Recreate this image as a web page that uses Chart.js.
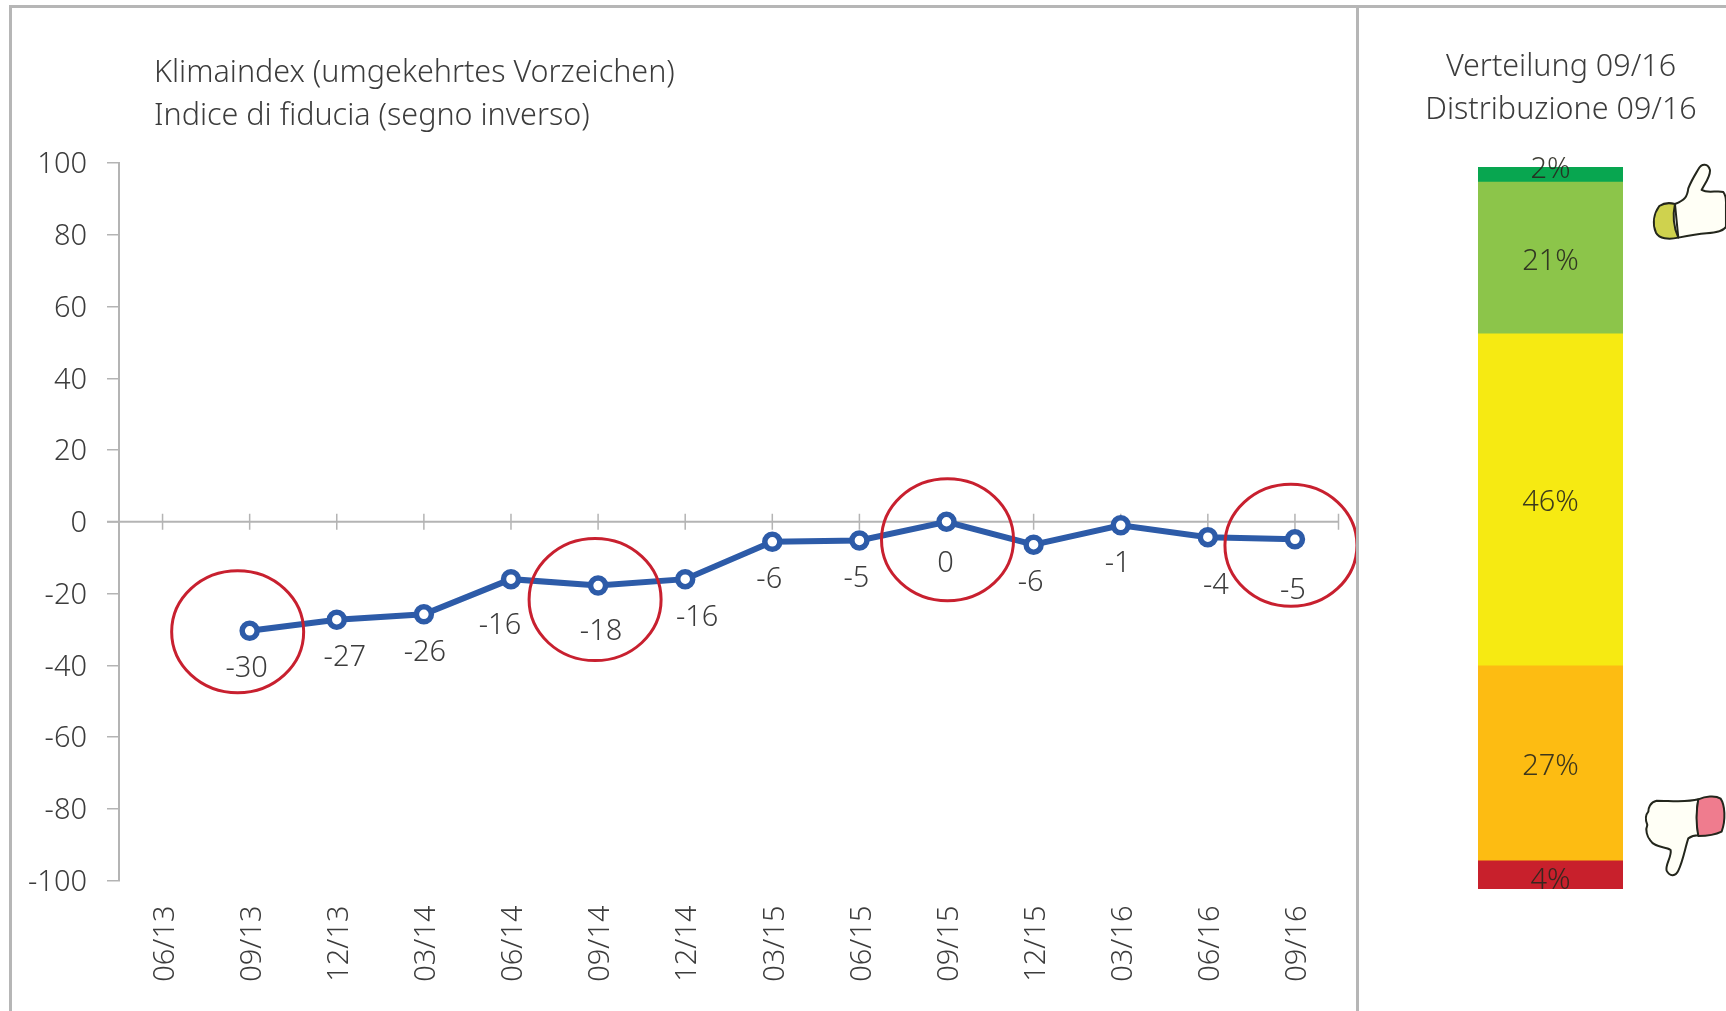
<!DOCTYPE html>
<html><head><meta charset="utf-8">
<script src="https://cdn.jsdelivr.net/npm/chart.js@4"></script>
<style>
html,body{margin:0;padding:0;background:#fff;width:1726px;height:1011px;overflow:hidden}
#wrap{position:relative;width:1726px;height:1011px}
#c1{position:absolute;left:0;top:0}
#c2{position:absolute;left:1360px;top:0}
.rule{position:absolute;background:#b6b6b6}
svg{position:absolute;left:0;top:0}
</style></head><body>
<div id="wrap">
<canvas id="c1" width="1358" height="1011"></canvas>
<canvas id="c2" width="366" height="1011"></canvas>
<div class="rule" style="left:9px;top:5px;width:1717px;height:3px"></div>
<div class="rule" style="left:9px;top:5px;width:3px;height:1006px"></div>
<div class="rule" style="left:1356px;top:5px;width:3px;height:1006px"></div>
<svg width="1726" height="1011" viewBox="0 0 1726 1011">
 <g transform="translate(1340,0) scale(0.3333)" stroke="#23261c" stroke-width="6" stroke-linejoin="round">
  <path fill="#fffff6" d="M1005 612C1035 600 1042 590 1045 565C1055 540 1065 525 1075 508C1085 488 1105 490 1110 510C1112 530 1095 550 1085 570C1105 582 1130 570 1150 576C1160 590 1158 600 1158 615L1158 680C1150 695 1125 698 1100 700C1070 702 1040 708 1015 713Z"/>
  <path fill="#cfd24e" d="M1005 612C990 608 970 610 958 618C942 640 936 670 948 698C958 716 985 720 1015 713C1000 680 998 645 1005 612Z"/>
 </g>
 <g transform="translate(1340,740) scale(0.3333)" stroke="#23261c" stroke-width="6" stroke-linejoin="round">
  <path fill="#fffff6" d="M1075 178C1040 188 990 182 950 182C930 186 925 205 925 215C912 230 918 245 922 255C915 270 922 290 930 300C945 325 975 318 992 330C996 350 975 375 980 392C990 412 1008 408 1015 392C1030 360 1035 325 1045 295C1055 288 1065 286 1075 286C1070 250 1068 215 1075 178Z"/>
  <path fill="#ef7c8e" d="M1075 178C1095 170 1125 165 1142 176C1155 195 1158 240 1145 275C1125 285 1095 288 1075 288C1068 250 1068 215 1075 178Z"/>
 </g>
</svg>
</div>
<script>
const categories = ['06/13','09/13','12/13','03/14','06/14','09/14','12/14','03/15','06/15','09/15','12/15','03/16','06/16','09/16'];
const klimaValues = [null,-30.4,-27.3,-25.8,-16,-17.8,-16,-5.6,-5.2,0,-6.4,-1,-4.3,-4.9];
const klimaLabels = ['', '-30','-27','-26','-16','-18','-16','-6','-5','0','-6','-1','-4','-5'];
const yTicks = [100,80,60,40,20,0,-20,-40,-60,-80,-100];
const highlighted = [1,5,9,13];
const shareNames = ['++','+','=','-','--'];
const shareValues = [2,21,46,27,4];
const shareColors = ['#08a650','#8cc54a','#f6ea12','#fdbc12','#c8202c'];
const shareLabels = ['2%','21%','46%','27%','4%'];

const labelOffsets = [[0,0],[-3,38],[8,38],[1,38],[-11,47],[3,46],[12,39],[-3,38],[-3,38],[-1,42],[-3,38],[-3,38],[8,49],[-2,51]];
const circleOffsets = {1:[-12,1],5:[-3,14],9:[1,18],13:[-4,6]};
const shareLabelShift = [-4,4,4,4,6];
const FONT = '"Noto Sans"';
const TEXT = '#3c3c3c';
const AXIS = '#b4b4b4';
const SIZE = 29;
const TITLE_SIZE = 30.5;

const titlePlugin = {
  id:'panelTitle',
  afterDraw(chart,_a,o){
    const c=chart.ctx; c.save();
    c.font=`300 ${o.size}px ${FONT}`; c.fillStyle=TEXT; c.textAlign=o.align; c.textBaseline='middle';
    o.lines.forEach((t,i)=>c.fillText(t,o.x,o.y[i]));
    c.restore();
  }
};
const zeroAxis = {
  id:'zeroAxis',
  beforeDatasetsDraw(chart){
    const {ctx:c,scales:{x,y},chartArea:a}=chart, y0=y.getPixelForValue(0);
    c.save(); c.strokeStyle=AXIS; c.lineWidth=2;
    c.beginPath(); c.moveTo(a.left-12,y0); c.lineTo(a.right,y0); c.stroke();
    c.lineWidth=1.5; c.beginPath();
    categories.forEach((_,i)=>{const p=x.getPixelForValue(i); c.moveTo(p,y0-8); c.lineTo(p,y0+8);});
    c.moveTo(a.right,y0-8); c.lineTo(a.right,y0+8);
    c.stroke(); c.restore();
  }
};
const pointLabels = {
  id:'pointLabels',
  afterDatasetsDraw(chart){
    const {ctx:c,scales:{x,y}}=chart;
    c.save();
    c.font=`300 ${SIZE}px ${FONT}`; c.fillStyle=TEXT; c.textAlign='center'; c.textBaseline='middle';
    klimaValues.forEach((v,i)=>{
      if(v===null) return;
      c.fillText(klimaLabels[i],x.getPixelForValue(i)+labelOffsets[i][0],y.getPixelForValue(v)+labelOffsets[i][1]);
    });
    c.strokeStyle='#c8202f'; c.lineWidth=3;
    highlighted.forEach(i=>{
      const o=circleOffsets[i];
      c.beginPath();
      c.ellipse(x.getPixelForValue(i)+o[0],y.getPixelForValue(klimaValues[i])+o[1],66,61,0,0,Math.PI*2);
      c.stroke();
    });
    c.restore();
  }
};
const shareText = {
  id:'shareText',
  afterDatasetsDraw(chart){
    const c=chart.ctx; c.save();
    c.font=`300 ${SIZE}px ${FONT}`; c.fillStyle='rgba(40,40,30,.9)'; c.textAlign='center'; c.textBaseline='middle';
    chart.data.datasets.forEach((d,i)=>{
      const b=chart.getDatasetMeta(i).data[0];
      c.fillText(shareLabels[i],b.x,(b.y+b.base)/2+shareLabelShift[i]);
    });
    c.restore();
  }
};

new Chart(document.getElementById('c1'),{
  type:'line',
  data:{labels:categories,datasets:[{
    label:'Klimaindex',data:klimaValues,spanGaps:false,
    borderColor:'#2d5ba8',borderWidth:6,tension:0,
    pointRadius:7.5,pointHoverRadius:7.5,pointBackgroundColor:'#fff',pointBorderColor:'#2d5ba8',pointBorderWidth:5.5
  }]},
  options:{
    responsive:false,animation:false,
    layout:{padding:{left:0,top:163,right:19.5,bottom:0}},
    plugins:{legend:{display:false},tooltip:{enabled:false},
      panelTitle:{lines:['Klimaindex (umgekehrtes Vorzeichen)','Indice di fiducia (segno inverso)'],x:154,y:[73,116],align:'left',size:TITLE_SIZE}},
    scales:{
      x:{offset:true,grid:{display:false},border:{display:false},
        afterFit(s){s.height=1011-880.5},
        ticks:{autoSkip:false,minRotation:90,maxRotation:90,padding:17,labelOffset:3,color:TEXT,font:{family:FONT,size:SIZE,weight:'300'}}},
      y:{min:-100,max:100,
        afterFit(s){s.width=119},
        afterBuildTicks(s){s.ticks=yTicks.map(v=>({value:v}))},
        grid:{drawOnChartArea:false,tickLength:12,color:AXIS,lineWidth:1.5},
        border:{color:AXIS,width:2},
        ticks:{padding:20,labelOffset:2,color:TEXT,font:{family:FONT,size:SIZE,weight:'300'}}}
    }
  },
  plugins:[zeroAxis,pointLabels,titlePlugin]
});

new Chart(document.getElementById('c2'),{
  type:'bar',
  data:{labels:['09/16'],datasets:shareValues.map((v,i)=>({
    label:shareNames[i],data:[v],backgroundColor:shareColors[i],borderWidth:0,
    barPercentage:1,categoryPercentage:1
  }))},
  options:{
    responsive:false,animation:false,
    layout:{padding:{left:118,right:103,top:167,bottom:122}},
    plugins:{legend:{display:false},tooltip:{enabled:false},
      panelTitle:{lines:['Verteilung 09/16','Distribuzione 09/16'],x:201,y:[67,110],align:'center',size:TITLE_SIZE}},
    scales:{
      x:{display:false,stacked:true},
      y:{display:false,stacked:true,min:0,max:100,reverse:true}
    }
  },
  plugins:[shareText,titlePlugin]
});
</script>
</body></html>
